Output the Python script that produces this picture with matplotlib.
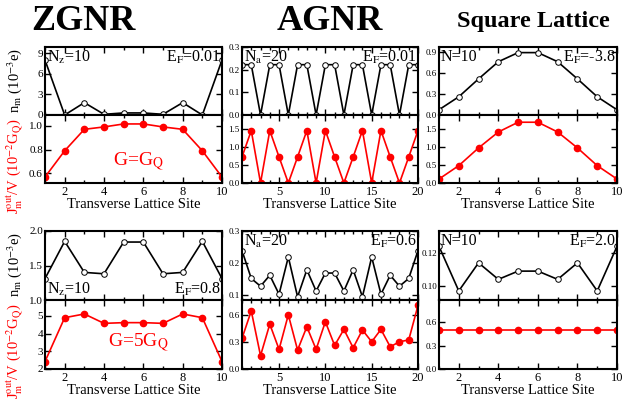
import matplotlib
matplotlib.use("Agg")
import matplotlib.pyplot as plt
from matplotlib.ticker import MultipleLocator, FormatStrFormatter, NullFormatter
import numpy as np

plt.rcParams['font.family'] = ['Liberation Serif', 'DejaVu Serif']
plt.rcParams['mathtext.fontset'] = 'stix'

sites10 = np.arange(1, 11)
sites20 = np.arange(1, 21)

# group 1 (top half)
zg_n1 = [8.0, 0.0, 1.8, 0.1, 0.3, 0.3, 0.1, 1.8, 0.0, 8.0]
zg_j1 = [0.57, 0.79, 0.97, 0.99, 1.015, 1.015, 0.99, 0.97, 0.79, 0.57]
ag_n1 = [0.222, 0.222, 0.0, 0.222, 0.222, 0.0, 0.222, 0.222, 0.0, 0.222,
         0.222, 0.0, 0.222, 0.222, 0.0, 0.222, 0.222, 0.0, 0.222, 0.222]
ag_j1 = [0.72, 1.45, 0.0, 1.45, 0.72, 0.0, 0.72, 1.45, 0.0, 1.45,
         0.72, 0.0, 0.72, 1.45, 0.0, 1.45, 0.72, 0.0, 0.72, 1.45]
sq_n1 = [0.075, 0.26, 0.515, 0.76, 0.89, 0.89, 0.76, 0.515, 0.26, 0.075]
sq_j1 = [0.11, 0.48, 0.97, 1.41, 1.68, 1.68, 1.41, 0.97, 0.48, 0.11]

# group 2 (bottom half)
zg_n2 = [1.31, 1.85, 1.40, 1.38, 1.84, 1.84, 1.38, 1.40, 1.85, 1.31]
zg_j2 = [2.42, 4.9, 5.11, 4.58, 4.62, 4.62, 4.58, 5.11, 4.9, 2.42]
ag_n2 = [0.239, 0.152, 0.128, 0.162, 0.103, 0.219, 0.095, 0.179, 0.113, 0.169,
         0.169, 0.113, 0.179, 0.095, 0.219, 0.103, 0.162, 0.128, 0.152, 0.239]
ag_j2 = [0.337, 0.64, 0.147, 0.494, 0.216, 0.597, 0.209, 0.465, 0.216, 0.52,
         0.26, 0.436, 0.234, 0.43, 0.30, 0.436, 0.245, 0.30, 0.32, 0.70]
sq_n2 = [0.124, 0.097, 0.114, 0.104, 0.109, 0.109, 0.104, 0.114, 0.097, 0.124]
sq_j2 = [0.5] * 10

W, H = 623, 399
fig = plt.figure(figsize=(W / 100, H / 100), dpi=100)

cols = [(45, 222), (242, 418), (439, 617)]
groups = [(47, 115, 183), (231, 300, 369)]


def make_ax(x0, x1, ytop, ybot):
    ax = fig.add_axes([x0 / W, 1 - ybot / H, (x1 - x0) / W, (ybot - ytop) / H])
    for s in ax.spines.values():
        s.set_linewidth(1.5)
    ax.tick_params(which='both', direction='in', top=True, right=True, width=1.0)
    ax.tick_params(which='major', length=4)
    ax.tick_params(which='minor', length=2)
    return ax


def setup_x(ax, n, labels):
    ax.set_xlim(1, n)
    if n == 10:
        ax.xaxis.set_major_locator(MultipleLocator(2))
    else:
        ax.xaxis.set_major_locator(MultipleLocator(5))
    ax.xaxis.set_minor_locator(MultipleLocator(1))
    if not labels:
        ax.xaxis.set_major_formatter(NullFormatter())
    ax.tick_params(axis='x', labelsize=9, pad=2)


data = [
    [(zg_n1, zg_j1), (ag_n1, ag_j1), (sq_n1, sq_j1)],
    [(zg_n2, zg_j2), (ag_n2, ag_j2), (sq_n2, sq_j2)],
]
nlims = [
    [((0, 9.9), 3, '%d'), ((0, 0.3), 0.1, '%.1f'), ((0, 0.97), 0.3, '%.1f')],
    [((1.0, 2.0), 0.5, '%.1f'), ((0.085, 0.3), 0.1, '%.1f'), ((0.0915, 0.1333), 0.02, '%.2f')],
]
jlims = [
    [((0.52, 1.09), 0.2, '%.1f'), ((0, 1.88), 0.5, '%.1f'), ((0, 1.88), 0.5, '%.1f')],
    [((2, 5.9), 1, '%d'), ((0, 0.76), 0.3, '%.1f'), ((0, 0.89), 0.3, '%.1f')],
]
left_txt = [['N$_{\\rm z}$=10', 'N$_{\\rm a}$=20', 'N=10'],
            ['N$_{\\rm z}$=10', 'N$_{\\rm a}$=20', 'N=10']]
right_txt = [['E$_{\\rm F}$=0.01', 'E$_{\\rm F}$=0.01', 'E$_{\\rm F}$=-3.8'],
             ['E$_{\\rm F}$=0.8', 'E$_{\\rm F}$=0.6', 'E$_{\\rm F}$=2.0']]

for g, (yt, ym, yb) in enumerate(groups):
    for c, (x0, x1) in enumerate(cols):
        nvals, jvals = data[g][c]
        x = sites10 if len(nvals) == 10 else sites20
        n = len(x)
        ysize = 8 if c == 0 else 6.5

        axn = make_ax(x0, x1, yt, ym)
        axn.plot(x, nvals, '-', color='black', lw=1.2, marker='o', ms=4,
                 mfc='white', mec='black', mew=0.7)
        setup_x(axn, n, False)
        lim, step, fmt = nlims[g][c]
        axn.set_ylim(*lim)
        axn.yaxis.set_major_locator(MultipleLocator(step))
        axn.yaxis.set_major_formatter(FormatStrFormatter(fmt))
        axn.tick_params(axis='y', labelsize=ysize, pad=1.5)

        if g == 1 and c == 0:
            ty, va = 0.03, 'bottom'
        else:
            ty, va = 0.97, 'top'
        axn.text(0.01, ty, left_txt[g][c], transform=axn.transAxes, fontsize=11.5, va=va, ha='left')
        axn.text(0.995, ty, right_txt[g][c], transform=axn.transAxes, fontsize=11.5, va=va, ha='right')

        axj = make_ax(x0, x1, ym, yb)
        axj.plot(x, jvals, '-', color='red', lw=1.2, marker='o', ms=4.5,
                 mfc='red', mec='red')
        setup_x(axj, n, True)
        lim, step, fmt = jlims[g][c]
        axj.set_ylim(*lim)
        axj.yaxis.set_major_locator(MultipleLocator(step))
        axj.yaxis.set_major_formatter(FormatStrFormatter(fmt))
        axj.tick_params(axis='y', labelsize=ysize, pad=1.5)
        axj.set_xlabel('Transverse Lattice Site', fontsize=10.5, labelpad=0)

        if c == 0:
            txt = 'G=G$_{\\rm Q}$' if g == 0 else 'G=5G$_{\\rm Q}$'
            gy = 0.31 if g == 0 else 0.38
            axj.text(0.53, gy, txt, transform=axj.transAxes, color='red',
                     fontsize=14, ha='center', va='center')

    # y labels for the first column
    fig.text(15 / W, 1 - ((yt + ym) / 2 - 1) / H, 'n$_{\\rm m}$ (10$^{-3}$e)',
             rotation=90, fontsize=10.5, ha='center', va='center')
    fig.text(15 / W, 1 - ((ym + yb) / 2 + 17) / H, 'J$_{\\rm m}^{\\rm out}$/V (10$^{-2}$G$_{\\rm Q}$)',
             rotation=90, fontsize=10.5, ha='center', va='center', color='red')

fig.text(83 / W, 1 - 21 / H, 'ZGNR', fontsize=26, fontweight='bold', ha='center', va='center')
fig.text(330 / W, 1 - 21 / H, 'AGNR', fontsize=26, fontweight='bold', ha='center', va='center')
fig.text(533 / W, 1 - 22 / H, 'Square Lattice', fontsize=17.5, fontweight='bold', ha='center', va='center')

fig.savefig('out.png', dpi=100)
